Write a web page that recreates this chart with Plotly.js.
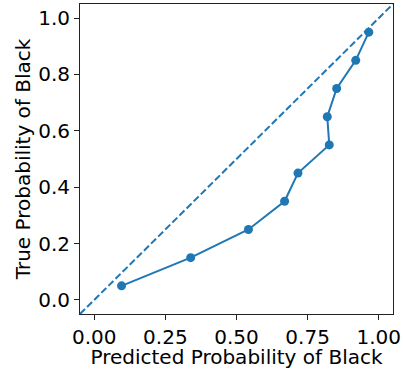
<!DOCTYPE html>
<html>
<head>
<meta charset="utf-8">
<script src="https://cdn.plot.ly/plotly-3.0.1.min.js"></script>
<style>html,body{margin:0;padding:0;background:#fff;}#chart{width:403px;height:369px;}</style>
</head>
<body>
<div id="chart"></div>
<script>
const predicted = [0.096, 0.339, 0.542, 0.669, 0.716, 0.826, 0.819, 0.852, 0.919, 0.965];
const observed  = [0.05, 0.15, 0.25, 0.35, 0.45, 0.55, 0.65, 0.75, 0.85, 0.95];
const diagX = [-0.05, 1.05];
const diagY = [-0.05, 1.05];
const xTickVals = [0, 0.25, 0.5, 0.75, 1.0];
const xTickText = ['0.00', '0.25', '0.50', '0.75', '1.00'];
const yTickVals = [0, 0.2, 0.4, 0.6, 0.8, 1.0];
const yTickText = ['0.0', '0.2', '0.4', '0.6', '0.8', '1.0'];

const blue = '#1f77b4';
const font = {family: 'DejaVu Sans', size: 20, color: '#000'};

const traces = [
  {x: diagX, y: diagY, mode: 'lines', line: {color: blue, width: 2, dash: '7px,3px'}, hoverinfo: 'skip'},
  {x: predicted, y: observed, mode: 'lines+markers', line: {color: blue, width: 2}, marker: {color: blue, size: 9}}
];

const axisCommon = {
  showgrid: false, zeroline: false, showline: true, mirror: true,
  linecolor: '#222', linewidth: 1, ticks: 'outside', ticklen: 5, tickwidth: 1, tickcolor: '#222',
  tickfont: font, tickmode: 'array'
};

const layout = {
  width: 403, height: 369,
  margin: {l: 80, r: 10, t: 4, b: 55},
  paper_bgcolor: '#fff', plot_bgcolor: '#fff',
  showlegend: false,
  font: font,
  xaxis: Object.assign({}, axisCommon, {range: [-0.05, 1.05], tickvals: xTickVals, ticktext: xTickText,
    title: {text: 'Predicted Probability of Black', font: font, standoff: 3}}),
  yaxis: Object.assign({}, axisCommon, {range: [-0.05, 1.05], tickvals: yTickVals, ticktext: yTickText,
    title: {text: 'True Probability of Black', font: font, standoff: 2}})
};

Plotly.newPlot('chart', traces, layout, {displayModeBar: false, staticPlot: true});
</script>
</body>
</html>
